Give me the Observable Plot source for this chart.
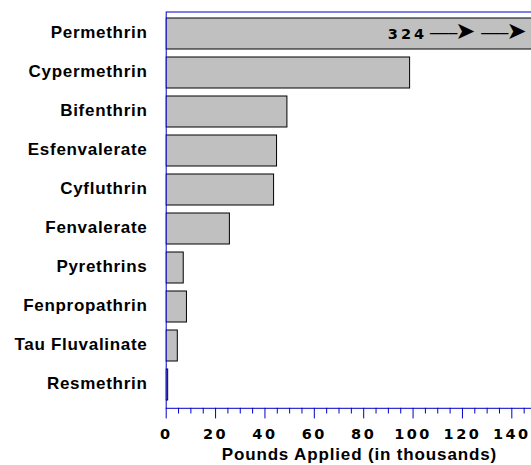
<!DOCTYPE html>
<html><head><meta charset="utf-8">
<script src="https://cdn.jsdelivr.net/npm/d3@7"></script>
<script src="https://cdn.jsdelivr.net/npm/@observablehq/plot@0.6"></script>
<style>
html,body{margin:0;padding:0;overflow:hidden;background:#fff;width:531px;height:465px;}
#chart svg{max-width:none !important;width:536px !important;height:465px !important;display:block;}
g[aria-label="y-axis tick label"] text{letter-spacing:0.7px;}
g[aria-label="x-axis tick label"] text{letter-spacing:2.5px;}
</style></head><body><div id="chart"></div>
<script>
const pesticides = ["Permethrin","Cypermethrin","Bifenthrin","Esfenvalerate","Cyfluthrin","Fenvalerate","Pyrethrins","Fenpropathrin","Tau Fluvalinate","Resmethrin"];
const pounds = [324, 98.8, 49.1, 44.9, 43.7, 25.8, 7.1, 8.4, 4.7, 0.8];
const majorTicks = [0, 20, 40, 60, 80, 100, 120, 140];
const minorTicks = [5, 10, 15, 25, 30, 35, 45, 50, 55, 65, 70, 75, 85, 90, 95, 105, 110, 115, 125, 130, 135, 145];
const xMax = 150;
const axisTitle = "Pounds Applied (in thousands)";
const shaftGlyph = "\u2500\u2500\u2500";
const headGlyph = "\u27A4";

const data = pesticides.map((name, i) => ({name, value: pounds[i]}));
const offscale = data.filter(d => d.value > xMax);
const blue = "#0000c8";

const plot = Plot.plot({
  width: 536, height: 465,
  marginLeft: 165.7, marginRight: 0, marginTop: 11.5, marginBottom: 57.2,
  x: {domain: [0, xMax]},
  y: {domain: pesticides, paddingInner: 0.193, paddingOuter: 0.094},
  style: {fontFamily: "'Liberation Sans', Arial, sans-serif", background: "#fff", overflow: "visible"},
  marks: [
    Plot.barX(data, {y: "name", x: "value", fill: "#c0c0c0", stroke: "#000", strokeWidth: 1, clip: true}),
    Plot.frame({stroke: blue, strokeWidth: 1}),
    Plot.axisY({tickSize: 0, tickPadding: 18.7, fontSize: 17, fontWeight: "bold", fill: "#000", label: null, dy: -1}),
    Plot.axisX(majorTicks, {tickSize: 10.6, stroke: blue, tickPadding: 9.9, fontSize: 14.5, fontWeight: "bold", fontFamily: "'DejaVu Sans', sans-serif", fill: "#000", label: null}),
    Plot.axisX(minorTicks, {tickSize: 5.7, stroke: blue, text: null, label: null}),
    Plot.text([axisTitle], {frameAnchor: "bottom", lineAnchor: "middle", dy: 46.3, dx: 8, fontSize: 17, fontWeight: "bold", fill: "#000"}),
    Plot.text(offscale, {y: "name", text: d => `${d.value} ${shaftGlyph}${headGlyph} ${shaftGlyph}${headGlyph}`, frameAnchor: "right", textAnchor: "end", dx: -10, fontSize: 14.5, fontWeight: "bold", fontFamily: "'DejaVu Sans', sans-serif", fill: "#000"})
  ]
});
document.getElementById("chart").appendChild(plot);
d3.select(plot).selectAll("text").filter(function() { return this.textContent === axisTitle; }).attr("letter-spacing", "0.85px");
d3.select(plot).selectAll("text").filter(function() { return this.textContent.includes(headGlyph); }).each(function() {
  const parts = this.textContent.split(" ");
  const t = d3.select(this).text(null);
  t.append("tspan").attr("letter-spacing", "3px").text(parts[0]);
  for (let i = 1; i < parts.length; i++) {
    const s = parts[i];
    t.append("tspan").attr("font-weight", "normal").attr("font-size", 15).attr("dx", i === 1 ? 3 : 6).text(s.slice(0, -1));
    t.append("tspan").attr("font-weight", "normal").attr("font-size", 24).attr("dx", -2).text(s.slice(-1));
  }
});
</script></body></html>
